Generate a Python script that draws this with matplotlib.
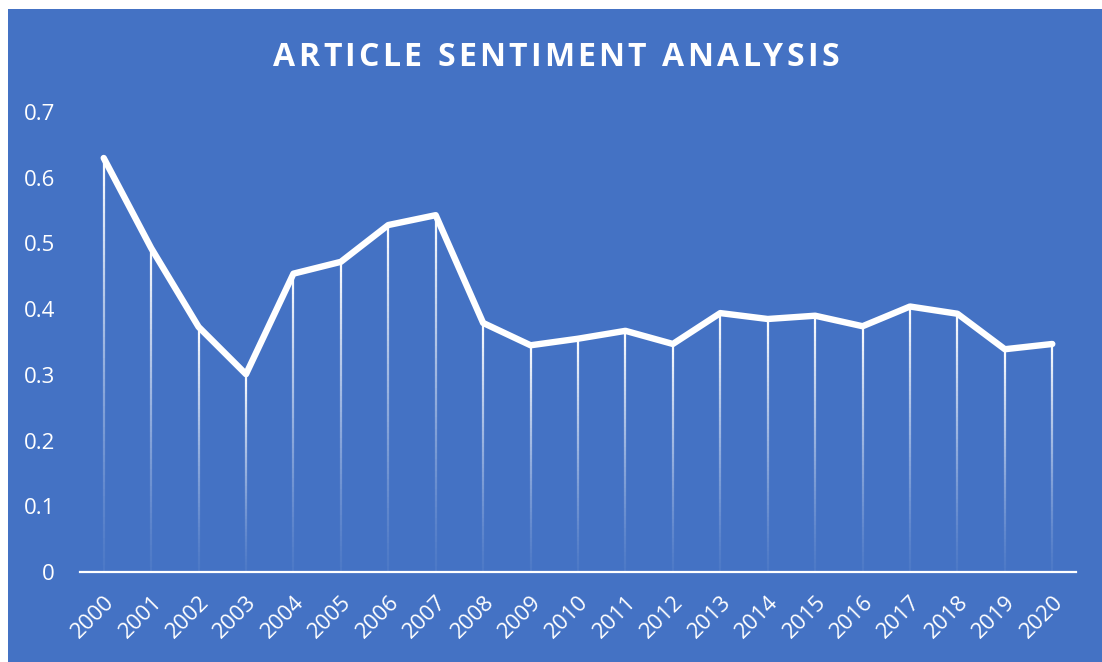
import numpy as np
import matplotlib
matplotlib.use('Agg')
import matplotlib.pyplot as plt
from matplotlib.collections import LineCollection
from matplotlib.patches import Rectangle

# data
years = [str(y) for y in range(2000, 2021)]
sentiment = [0.630, 0.493, 0.373, 0.301, 0.454, 0.472, 0.528, 0.543, 0.379,
             0.345, 0.355, 0.367, 0.347, 0.394, 0.385, 0.390, 0.374, 0.404,
             0.393, 0.339, 0.347]
yticks = [0, 0.1, 0.2, 0.3, 0.4, 0.5, 0.6, 0.7]
ytick_labels = ['0', '0.1', '0.2', '0.3', '0.4', '0.5', '0.6', '0.7']
title = 'ARTICLE SENTIMENT ANALYSIS'

blue = '#4472C4'
plt.rcParams['font.family'] = ['Open Sans', 'DejaVu Sans']

fig = plt.figure(figsize=(11.02, 6.62), dpi=100, facecolor='white')
# blue chart area with a thin white margin on top/left
fig.patches.append(Rectangle((8 / 1102, 0), 1 - 8 / 1102, 1 - 9 / 662,
                             transform=fig.transFigure, facecolor=blue,
                             edgecolor='none', zorder=-10))

ax = fig.add_axes([80 / 1102, 1 - 572 / 662, (1076 - 80) / 1102, (572 - 112) / 662])
ax.set_facecolor('none')

x = np.arange(len(years))

# drop lines, fading from white at the point to transparent at the axis
segs = []
cols = []
n = 60
for xi, v in zip(x, sentiment):
    ys = np.linspace(0, v, n + 1)
    for k in range(n):
        segs.append([(xi, ys[k]), (xi, ys[k + 1])])
        a = (k + 0.5) / n
        cols.append((1, 1, 1, 0.05 + 0.95 * a ** 1.3))
ax.add_collection(LineCollection(segs, colors=cols, linewidths=1.6,
                                 capstyle='butt', zorder=2))

ax.plot(x, sentiment, color='white', lw=4.6, solid_capstyle='round',
        solid_joinstyle='round', zorder=3)

ax.set_xlim(-0.5, len(years) - 0.5)
ax.set_ylim(0, 0.7)
ax.set_yticks(yticks)
ax.set_yticklabels(ytick_labels)
ax.set_xticks(x)
ax.set_xticklabels(years, rotation=45, ha='right', va='top', rotation_mode='anchor')

for s in ['top', 'right', 'left']:
    ax.spines[s].set_visible(False)
ax.spines['bottom'].set_color('white')
ax.spines['bottom'].set_linewidth(1.6)
ax.tick_params(axis='both', length=0, colors='white', labelsize=16)
ax.tick_params(axis='y', pad=18)
ax.tick_params(axis='x', pad=14)

# title with extra letter spacing, laid out one character at a time
renderer = fig.canvas.get_renderer()
spacing = 3.2  # px between letters
title_kw = dict(color='white', fontsize=23, fontweight='bold', va='center', ha='left')
widths = []
for ch in title:
    t = fig.text(0, 0, ch if ch != ' ' else 'n', **title_kw)
    w = t.get_window_extent(renderer).width
    if ch == ' ':
        w *= 0.45
    widths.append(w)
    t.remove()
total = sum(widths) + spacing * (len(title) - 1)
xpos = 556 - total / 2
for ch, w in zip(title, widths):
    if ch != ' ':
        fig.text(xpos / 1102, 1 - 57 / 662, ch, **title_kw)
    xpos += w + spacing

fig.savefig('out.png', dpi=100, facecolor='white')
